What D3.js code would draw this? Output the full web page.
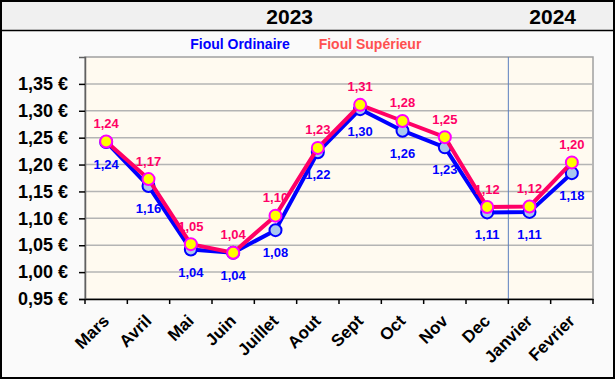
<!DOCTYPE html>
<html><head><meta charset="utf-8">
<script src="https://cdn.jsdelivr.net/npm/d3@7"></script>
<style>body{margin:0;padding:0;background:#fff;}svg{display:block;font-family:Arial,"Liberation Sans",sans-serif;}</style>
</head><body>
<svg id="c" width="616" height="380"></svg>
<script>
const months = ["Mars","Avril","Mai","Juin","Juillet","Aout","Sept","Oct","Nov","Dec","Janvier","Fevrier"];
const ordinaire = [1.242,1.160,1.042,1.036,1.078,1.223,1.303,1.263,1.232,1.111,1.112,1.184];
const superieur = [1.243,1.173,1.052,1.036,1.105,1.231,1.311,1.281,1.251,1.121,1.122,1.204];
const yTicks = [0.95,1.00,1.05,1.10,1.15,1.20,1.25,1.30,1.35];
const years = [{label:"2023", from:0, to:10},{label:"2024", from:10, to:12}];
const seriesNames = ["Fioul Ordinaire","Fioul Supérieur"];

const svg = d3.select("#c");
const W = 616, H = 380;
const m = {l:85, r:593, t:57, b:299};
const FONT = "Arial, 'Liberation Sans', sans-serif";

// frame
svg.append("rect").attr("x",1).attr("y",1).attr("width",W-2).attr("height",H-2).attr("fill","#c8c8c8");
svg.append("rect").attr("x",1).attr("y",1).attr("width",613).attr("height",377).attr("fill","#fafafa").attr("stroke","#000").attr("stroke-width",2);
svg.append("rect").attr("x",2).attr("y",2).attr("width",611).attr("height",28).attr("fill","#f0f0f0");
svg.append("line").attr("x1",1).attr("x2",614).attr("y1",30.5).attr("y2",30.5).attr("stroke","#000").attr("stroke-width",1.5);

const x = d3.scaleBand().domain(months).range([m.l,m.r]).padding(0);
const y = d3.scaleLinear().domain([0.95,1.40]).range([m.b,m.t]);
const cx = d => x(d)+x.bandwidth()/2;

// year headers
svg.selectAll("text.yr").data(years).join("text")
  .attr("x",d=>{const a=x(months[d.from]); const b=d.to>=months.length? m.r : x(months[d.to]); return d.from===0? (a+b)/2-7 : (a+b)/2+2;})
  .attr("y",24).attr("text-anchor","middle").attr("font-size",21).attr("font-weight","bold").attr("fill","#000")
  .text(d=>d.label);

// legend
svg.append("text").attr("x",240).attr("y",49).attr("text-anchor","middle").attr("font-size",14).attr("font-weight","bold").attr("fill","#0000ff").text(seriesNames[0]);
svg.append("text").attr("x",370).attr("y",49).attr("text-anchor","middle").attr("font-size",14).attr("font-weight","bold").attr("fill","#ff5050").text(seriesNames[1]);

// plot bg
svg.append("rect").attr("x",m.l).attr("y",m.t).attr("width",m.r-m.l).attr("height",m.b-m.t).attr("fill","#fffaf0").attr("stroke","#a0a0a0").attr("stroke-width",1.5);

// grid
svg.selectAll("line.g").data(yTicks.slice(1)).join("line")
  .attr("x1",m.l).attr("x2",m.r).attr("y1",d=>y(d)).attr("y2",d=>y(d))
  .attr("stroke","#b4b4b4").attr("stroke-width",1.5);

// year separator
svg.append("line").attr("x1",x("Janvier")).attr("x2",x("Janvier")).attr("y1",m.t).attr("y2",m.b)
  .attr("stroke","#5b7fbf").attr("stroke-width",1);

// y axis
const yAxis = d3.axisLeft(y).tickValues(yTicks).tickSize(6).tickPadding(11)
  .tickFormat(d=>d3.format(".2f")(d).replace(".",",")+" €");
const ga = svg.append("g").attr("transform",`translate(${m.l},0)`).call(yAxis);
ga.select(".domain").attr("stroke","#606060").attr("stroke-width",1.5);
ga.selectAll(".tick line").attr("stroke","#000").attr("stroke-width",1.5);
ga.selectAll("text").attr("font-size",18).attr("font-weight","bold").attr("fill","#000").attr("font-family",FONT);

// x axis
const xAxis = d3.axisBottom(x).tickSize(0).tickFormat(d=>d);
const gx = svg.append("g").attr("transform",`translate(0,${m.b})`).call(xAxis);
gx.select(".domain").attr("stroke","#000").attr("stroke-width",1.5);
gx.selectAll(".tick text").attr("font-size",17).attr("font-weight","bold").attr("fill","#000")
  .attr("font-family",FONT)
  .attr("text-anchor","end").attr("dy",null).attr("y",0)
  .attr("transform","translate(4,23) rotate(-45)");
// boundary ticks
const bounds = months.map(d=>x(d)).concat([m.r]);
svg.selectAll("line.xt").data(bounds).join("line")
  .attr("x1",d=>d).attr("x2",d=>d).attr("y1",m.b).attr("y2",m.b+5)
  .attr("stroke","#000").attr("stroke-width",1.5);

const fmt = v => d3.format(".2f")(v).replace(".",",");
const line = d3.line().x((d,i)=>cx(months[i])).y(d=>y(d));

// blue series
svg.append("path").datum(ordinaire).attr("d",line).attr("fill","none").attr("stroke","#0000ff").attr("stroke-width",4).attr("stroke-linejoin","round");
svg.selectAll("circle.o").data(ordinaire).join("circle")
  .attr("cx",(d,i)=>cx(months[i])).attr("cy",d=>y(d)).attr("r",6)
  .attr("fill","#a9c8ee").attr("stroke","#0000ff").attr("stroke-width",2);

// pink series
svg.append("path").datum(superieur).attr("d",line).attr("fill","none").attr("stroke","#ff0066").attr("stroke-width",4).attr("stroke-linejoin","round");
svg.selectAll("circle.s").data(superieur).join("circle")
  .attr("cx",(d,i)=>cx(months[i])).attr("cy",d=>y(d)).attr("r",6)
  .attr("fill","#ffff00").attr("stroke","#ff00ff").attr("stroke-width",2);

// labels
svg.selectAll("text.lo").data(ordinaire).join("text")
  .attr("x",(d,i)=>cx(months[i])).attr("y",d=>y(d)+27)
  .attr("text-anchor","middle").attr("font-size",13).attr("font-weight","bold").attr("fill","#0000ff").text(fmt);
svg.selectAll("text.ls").data(superieur).join("text")
  .attr("x",(d,i)=>cx(months[i])).attr("y",d=>y(d)-13.5)
  .attr("text-anchor","middle").attr("font-size",13).attr("font-weight","bold").attr("fill","#ff0066").text(fmt);
</script>
</body></html>
